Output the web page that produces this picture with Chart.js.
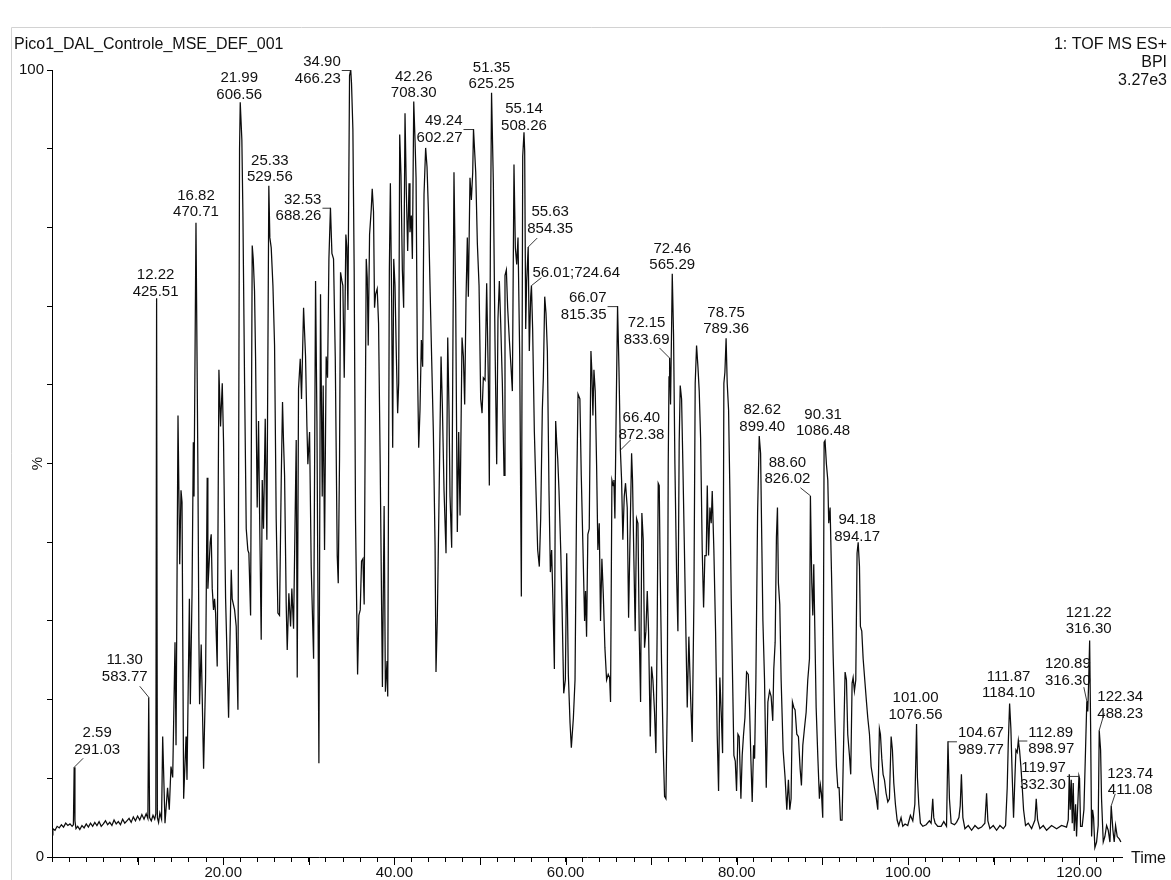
<!DOCTYPE html>
<html>
<head>
<meta charset="utf-8">
<title>Pico1_DAL_Controle_MSE_DEF_001 - BPI</title>
<script src="https://cdn.jsdelivr.net/npm/chart.js@4.4.1/dist/chart.umd.min.js"></script>
<style>
  html, body { margin: 0; padding: 0; background: #fff; }
  #wrap { position: relative; width: 1171px; height: 880px; }
</style>
</head>
<body>
<div id="wrap"><canvas id="bpiChart" width="1171" height="880"></canvas></div>
<script>
// Header texts
var sampleName = 'Pico1_DAL_Controle_MSE_DEF_001';
var traceInfo = ['1: TOF MS ES+', 'BPI', '3.27e3'];
var xAxisName = 'Time';
var yAxisName = '%';

// Axis ranges and labelled ticks
var timeRange = [0, 125];
var percentRange = [0, 100];
var xLabelledTicks = [20, 40, 60, 80, 100, 120];
var yLabelledTicks = [0, 100];

// Base peak intensity trace: [retention time (min), relative intensity (%)]
var chromatogram = [
  [0.0,2.8],[0.1,3.6],[0.35,3.4],[0.6,3.9],[0.85,3.7],[1.1,4.1],[1.35,3.8],[1.6,4.3],[1.85,4.0],[2.1,4.2],
  [2.35,3.9],[2.5,4.1],[2.59,11.4],[2.68,4.6],[2.8,3.6],[3.0,3.9],[3.25,3.5],[3.5,4.0],[3.75,3.7],[4.0,4.2],
  [4.25,3.8],[4.5,4.3],[4.75,3.9],[5.0,4.4],[5.25,4.0],[5.5,4.5],[5.75,3.9],[6.0,4.2],[6.25,4.6],[6.5,4.1],
  [6.75,4.4],[7.0,4.0],[7.25,4.7],[7.5,4.2],[7.75,4.5],[8.0,4.1],[8.25,4.8],[8.5,4.3],[8.75,4.6],[9.0,4.9],
  [9.25,4.4],[9.5,5.1],[9.75,4.6],[10.0,5.2],[10.25,4.7],[10.5,5.4],[10.75,4.8],[11.0,5.5],[11.2,4.9],[11.30,20.3],
  [11.4,5.0],[11.6,4.6],[11.8,5.3],[12.0,4.8],[12.13,5.5],[12.22,71],[12.31,5.0],[12.45,4.4],[12.6,5.6],[12.8,4.8],
  [12.93,15.3],[13.2,4.3],[13.5,8.8],[13.7,6.0],[13.9,11.5],[14.1,10.1],[14.37,27.3],[14.49,14.2],[14.72,56.1],[14.92,37.2],
  [15.07,46.6],[15.19,45.1],[15.38,7.4],[15.66,15.3],[15.77,9.8],[16.05,32.8],[16.16,19.4],[16.36,33.5],[16.51,52.7],[16.59,45.8],
  [16.82,80.6],[17.04,50],[17.16,28],[17.24,19.4],[17.43,27],[17.71,11.2],[17.94,22.5],[18.13,48.2],[18.21,34.1],[18.48,40],
  [18.6,41],[18.72,34.1],[18.87,31.4],[18.99,32.8],[19.11,31],[19.3,24.2],[19.5,61.9],[19.69,54.7],[19.89,60.2],[20.04,52.7],
  [20.28,32.8],[20.63,17.7],[20.94,36.5],[21.05,32.8],[21.33,31.4],[21.52,29.3],[21.72,18.7],[21.91,90],[21.99,95.9],[22.18,91.1],
  [22.3,82],[22.5,60],[22.69,41.7],[22.88,39],[23.0,38.6],[23.2,30.7],[23.39,77.7],[23.51,76],[23.66,71.9],[23.78,63.6],
  [23.97,44.4],[24.13,55.4],[24.25,43.7],[24.44,27.6],[24.56,47.9],[24.71,41.7],[24.91,55.7],[25.1,40.3],[25.33,85.3],[25.45,78.7],
  [25.61,77.4],[25.81,72.6],[26.0,65],[26.19,43],[26.39,31],[26.58,30.7],[26.78,47.9],[26.93,57.8],[27.05,52.7],[27.17,48.5],
  [27.36,32.1],[27.48,26.3],[27.67,33.5],[27.87,29.3],[28.02,34.1],[28.22,29],[28.34,38.3],[28.53,53],[28.65,22.8],[28.8,59.5],
  [29.0,63.3],[29.15,58.2],[29.39,69.8],[29.62,63.6],[29.78,54.7],[29.89,49.9],[30.09,54],[30.28,36.9],[30.56,25.2],[30.79,73.2],
  [30.95,55.4],[31.18,11.9],[31.37,71.5],[31.57,45.8],[31.68,59.9],[31.84,39],[32.03,63.6],[32.19,60.9],[32.35,76],[32.53,82.5],
  [32.7,76.7],[32.89,76],[33.09,63.6],[33.32,38.3],[33.44,34.8],[33.59,50.6],[33.71,74.3],[33.87,73.2],[33.98,72.6],[34.14,60.9],
  [34.33,79.1],[34.45,77.4],[34.57,69.5],[34.76,99.3],[34.9,100],[34.99,98.3],[35.15,92.5],[35.3,74.6],[35.46,42.7],[35.7,23.2],
  [35.85,30.7],[36.01,31.4],[36.16,37.6],[36.32,37.9],[36.47,32.1],[36.71,76],[36.83,73.6],[36.94,65],[37.1,79.1],[37.29,82.2],
  [37.41,84.9],[37.56,82],[37.68,69.8],[37.8,71.5],[37.99,72.2],[38.15,67.8],[38.34,49.9],[38.6,21.6],[38.8,44.6],[38.95,21],
  [39.14,24.9],[39.22,20.4],[39.41,74.6],[39.53,85.6],[39.68,70.5],[39.8,52],[39.92,76],[40.07,72.6],[40.23,63.6],[40.38,56.4],
  [40.5,60.2],[40.62,91.8],[40.77,86.6],[40.93,74.6],[41.08,69.8],[41.24,94.5],[41.4,84.2],[41.55,77],[41.71,85.6],[41.82,79.4],
  [41.98,81.5],[42.1,76],[42.26,96],[42.41,91.1],[42.53,86.3],[42.68,63.6],[42.84,52],[42.99,56.8],[43.15,65.7],[43.3,62.3],
  [43.46,84.2],[43.65,90.1],[43.81,87.7],[43.97,82.2],[44.16,72.6],[44.36,63],[44.55,54],[44.75,39.6],[44.86,23.5],[45.02,30.7],
  [45.21,45.1],[45.45,63.6],[45.6,57.5],[45.8,46.5],[46.03,38.6],[46.23,66],[46.38,56.8],[46.5,45.8],[46.69,39.3],[46.96,87],
  [47.16,70.5],[47.35,41.3],[47.51,54],[47.67,43.4],[47.9,66],[48.06,63.6],[48.21,57.5],[48.37,71.2],[48.52,78.7],[48.64,71.2],
  [48.83,86.3],[48.99,83.5],[49.15,87],[49.24,92.5],[49.5,87],[49.69,78],[49.89,72.6],[50.08,58.2],[50.24,56.4],[50.39,60.9],
  [50.59,60.6],[50.78,72.9],[50.98,60.2],[51.09,47.2],[51.21,77.4],[51.35,97.1],[51.56,85.6],[51.75,65.7],[51.95,49.9],[52.1,68.4],
  [52.26,73.2],[52.42,67.8],[52.61,60.2],[52.81,48.5],[52.92,73.9],[53.08,74.6],[53.23,69.8],[53.43,65.7],[53.62,62.3],[53.78,59.2],
  [53.97,88],[54.13,77.4],[54.29,75.3],[54.44,78.7],[54.64,63.6],[54.83,33.1],[54.99,89],[55.14,92.1],[55.22,89.7],[55.34,67.1],
  [55.45,73.2],[55.63,77.5],[55.76,64.3],[55.92,71.2],[56.01,72.6],[56.15,67.1],[56.35,54],[56.54,46.5],[56.74,39],[56.93,36.9],
  [57.09,43],[57.28,56.8],[57.4,60.9],[57.56,71.2],[57.71,69.1],[57.87,64.3],[58.06,46.5],[58.22,36.2],[58.37,39],[58.53,32.1],
  [58.69,23.9],[58.84,55.4],[58.96,52.7],[59.08,50.6],[59.23,46.5],[59.43,39],[59.58,32.1],[59.78,20.8],[59.97,22.5],[60.13,38.6],
  [60.32,23.2],[60.52,17],[60.67,13.9],[60.91,17.7],[61.1,22.5],[61.29,46],[61.45,58.8],[61.67,58.2],[61.83,48.5],[62.02,39.6],
  [62.22,30],[62.33,33.8],[62.45,28],[62.6,41],[62.76,41.7],[62.96,64.3],[63.07,61.6],[63.19,56.1],[63.31,61.9],[63.46,59.2],
  [63.62,49.9],[63.77,39],[63.93,42.4],[64.08,30],[64.24,37.9],[64.4,33.5],[64.59,26.6],[64.79,22.5],[64.98,23.2],[65.14,22.8],
  [65.25,19.7],[65.41,47.9],[65.56,47.2],[65.64,47.9],[65.76,43],[65.91,56.8],[66.07,70],[66.23,62.3],[66.4,51.7],[66.54,47.9],
  [66.69,40.3],[66.85,45.8],[67.0,47.5],[67.2,44.4],[67.36,30.4],[67.51,39.6],[67.71,51.3],[67.82,47.9],[67.98,37.6],[68.13,28.7],
  [68.29,43],[68.45,42.4],[68.6,28.7],[68.76,19.7],[68.91,43.7],[69.07,40.3],[69.22,26.6],[69.38,28.7],[69.54,33.8],[69.69,28.7],
  [69.89,15.3],[70.04,24.2],[70.2,22.5],[70.39,18.4],[70.55,13.2],[70.7,29.3],[70.82,47.5],[70.94,47.2],[71.05,36.2],[71.21,24.6],
  [71.41,13.6],[71.56,7.7],[71.72,7.4],[71.87,19],[71.99,49.9],[72.08,61],[72.15,63.4],[72.26,57.5],[72.38,67.1],[72.46,74.1],
  [72.61,66.4],[72.77,49.9],[72.96,36.2],[73.12,28.7],[73.27,52.7],[73.39,59.9],[73.55,58.2],[73.7,49.9],[73.86,40.3],[74.05,28.7],
  [74.21,19],[74.4,28],[74.6,20.4],[74.79,14.6],[74.99,32.8],[75.14,60.2],[75.3,65],[75.46,62.3],[75.61,59.2],[75.77,53.3],
  [75.96,39],[76.12,31.7],[76.27,38.3],[76.43,38.3],[76.55,47.2],[76.7,38.3],[76.86,44.4],[77.01,42.4],[77.13,46.5],[77.32,39],
  [77.52,28.7],[77.71,15.6],[77.87,8.4],[78.02,22.8],[78.18,18.4],[78.34,13.2],[78.49,60.2],[78.61,61.6],[78.75,65.9],[78.88,60.2],
  [79.04,56.8],[79.19,46.5],[79.35,32.8],[79.51,22.5],[79.66,12.9],[79.82,12.2],[79.97,8.4],[80.13,15.6],[80.28,15.3],[80.48,7.4],
  [80.63,12.9],[80.79,15.6],[80.95,17.7],[81.14,23.5],[81.34,23.2],[81.49,19],[81.65,12.2],[81.8,7],[81.96,14.2],[82.08,12.5],
  [82.23,22.5],[82.43,43.7],[82.62,53.5],[82.78,51.3],[82.89,42.4],[83.05,30],[83.24,22.5],[83.44,8.8],[83.63,19.7],[83.83,21.1],
  [84.01,20.4],[84.2,17.3],[84.32,23.9],[84.48,27.3],[84.63,40.7],[84.75,44.4],[84.86,34.8],[85.02,32.1],[85.18,22.5],[85.41,13.6],
  [85.64,10.1],[85.84,6],[86.03,9.8],[86.19,6],[86.34,7.4],[86.5,19.7],[86.66,19],[86.81,18.7],[87.01,15.6],[87.2,15.3],
  [87.4,11.2],[87.55,9.1],[87.71,14.2],[87.9,16.3],[88.1,18.4],[88.29,22.5],[88.49,25.2],[88.6,45.9],[88.76,34.8],[88.88,30.7],
  [88.99,37.2],[89.11,29.3],[89.27,19],[89.46,12.9],[89.65,7.4],[89.77,9.1],[89.89,8.1],[90.04,5],[90.2,52.7],[90.31,52.9],
  [90.47,49.9],[90.63,47.9],[90.74,42.4],[90.9,44.4],[91.06,36.2],[91.25,25.9],[91.45,17.7],[91.64,11.5],[91.8,8.8],[91.95,8.8],
  [92.11,4.7],[92.3,4.7],[92.5,15.6],[92.65,23.5],[92.81,22.5],[92.96,15.6],[93.16,12.9],[93.31,10.5],[93.47,22.1],[93.59,22.8],
  [93.74,21.1],[93.9,22.5],[94.05,38.6],[94.18,40],[94.33,36.9],[94.44,29.3],[94.6,28.7],[94.76,25.2],[94.95,22.5],[95.15,19.7],
  [95.3,17.7],[95.5,15.6],[95.69,11.5],[95.89,10.1],[96.08,8.8],[96.27,7.7],[96.47,6],[96.66,16.3],[96.78,15.6],[96.94,12.5],
  [97.09,10.5],[97.25,9.8],[97.44,8.1],[97.64,7],[97.83,7.4],[98.03,15.3],[98.18,13.6],[98.34,9.4],[98.53,6.7],[98.73,4.7],
  [98.92,4],[99.19,5],[99.39,3.9],[99.66,4.2],[99.97,4],[100.28,5.3],[100.56,4.6],[100.8,6.7],[101.0,16.9],[101.1,10.1],
  [101.26,6.7],[101.45,4.3],[101.73,3.9],[102.12,4.1],[102.5,4.6],[102.7,4.3],[102.89,7.4],[103.01,5],[103.17,4.3],[103.48,3.9],
  [103.87,3.9],[104.18,4.5],[104.5,3.9],[104.67,14.7],[104.84,7.4],[105.04,4.3],[105.43,4.1],[105.67,4.4],[105.95,5],[106.1,6.5],
  [106.24,10.5],[106.41,5],[106.65,3.6],[107.04,4],[107.43,3.4],[107.82,4],[108.21,3.6],[108.59,3.8],[108.98,4.3],[109.18,8.1],
  [109.33,4.6],[109.57,3.6],[109.96,4],[110.35,3.4],[110.74,4],[111.13,3.6],[111.4,4],[111.59,8.8],[111.71,14.3],[111.87,19.5],
  [112.02,16.3],[112.18,10.1],[112.33,5],[112.49,10.1],[112.61,13.6],[112.76,13.3],[112.89,14.8],[113.03,13.6],[113.19,11.5],[113.35,8.8],
  [113.5,6],[113.73,4],[114.05,4.3],[114.44,3.6],[114.83,4.7],[114.98,7.4],[115.14,4.7],[115.41,3.6],[115.8,4],[116.19,3.4],
  [116.77,4],[117.36,3.6],[117.94,4],[118.52,3.8],[118.72,4.7],[118.84,10.5],[118.95,6],[119.07,9.8],[119.19,4.3],[119.3,9.4],
  [119.42,3.3],[119.58,6.7],[119.69,2.6],[119.81,6],[119.97,10.3],[120.04,10],[120.16,3.9],[120.35,3.9],[120.55,6],[120.74,13.6],
  [120.89,19.8],[121.0,18.5],[121.1,22],[121.22,27.5],[121.33,17],[121.45,2.6],[121.56,6],[121.68,5],[121.83,1.2],[122.03,1.9],
  [122.22,4],[122.34,16.1],[122.5,13.6],[122.61,7.4],[122.81,1.9],[123.0,2.6],[123.2,4],[123.39,3.4],[123.59,1.9],[123.74,6.5],
  [123.94,3.4],[124.09,1.9],[124.25,4],[124.44,2.6],[124.68,2.3],[124.87,1.9]
];

// Annotated peaks: retention time, base peak m/z, apex height (%)
var peakTimes   = [2.59, 11.30, 12.22, 16.82, 21.99, 25.33, 32.53, 34.90, 42.26, 49.24, 51.35, 55.14, 55.63, 56.01, 66.07, 66.40,
                   72.15, 72.46, 78.75, 82.62, 88.60, 90.31, 94.18, 101.00, 104.67, 111.87, 112.89, 119.97, 120.89, 121.22, 122.34, 123.74];
var peakMasses  = [291.03, 583.77, 425.51, 470.71, 606.56, 529.56, 688.26, 466.23, 708.30, 602.27, 625.25, 508.26, 854.35, 724.64, 815.35, 872.38,
                   833.69, 565.29, 789.36, 899.40, 826.02, 1086.48, 894.17, 1076.56, 989.77, 1184.10, 898.97, 332.30, 316.30, 316.30, 488.23, 411.08];
var peakHeights = [11.4, 20.3, 71, 80.6, 95.9, 85.3, 82.5, 100, 96, 92.5, 97.1, 92.1, 77.5, 72.6, 70, 51.7,
                   63.4, 74.1, 65.9, 53.5, 45.9, 52.9, 40, 16.9, 14.7, 19.5, 14.8, 10.3, 19.8, 27.5, 16.1, 6.5];

// Where each peak label sits relative to its apex (pixels)
var labelLayout = [
  {mode: 'diag', dx: 23, dy: -34, lx: 9, ly: -9},
  {mode: 'diag', dx: -24, dy: -37, lx: -9, ly: -11},
  {mode: 'top', dx: -1, dy: -23},
  {mode: 'top', dx: 0, dy: -27},
  {mode: 'top', dx: -1, dy: -24},
  {mode: 'top', dx: 1, dy: -25},
  {mode: 'left', len: 8},
  {mode: 'left', len: 9},
  {mode: 'top', dx: 0, dy: -25},
  {mode: 'left', len: 10},
  {mode: 'top', dx: 0, dy: -25},
  {mode: 'top', dx: 0, dy: -23},
  {mode: 'diag', dx: 22, dy: -35, lx: 9, ly: -9},
  {mode: 'inline', lx: 10, ly: -8},
  {mode: 'left', len: 10},
  {mode: 'diag', dx: 21, dy: -32, lx: 10, ly: -10},
  {mode: 'diag', dx: -23, dy: -35, lx: -10, ly: -10},
  {mode: 'top', dx: 0, dy: -25},
  {mode: 'top', dx: 0, dy: -26},
  {mode: 'top', dx: 3, dy: -26},
  {mode: 'diag', dx: -23, dy: -33, lx: -10, ly: -8},
  {mode: 'top', dx: -2, dy: -26},
  {mode: 'top', dx: -1, dy: -22},
  {mode: 'top', dx: -1, dy: -26},
  {mode: 'right', len: 9},
  {mode: 'top', dx: -1, dy: -27},
  {mode: 'right', len: 9},
  {mode: 'left', len: 12},
  {mode: 'diag', dx: -19, dy: -37, lx: -3, ly: -14},
  {mode: 'top', dx: -1, dy: -28},
  {mode: 'diag', dx: 21, dy: -33, lx: 5, ly: -17},
  {mode: 'diag', dx: 19, dy: -32, lx: 4, ly: -12}
];

var FONT_FAMILY = '"Liberation Sans", Arial, Helvetica, sans-serif';
var TEXT_COLOR = '#111';

// Frame, header texts and axis name "Time"
var headerPlugin = {
  id: 'header',
  beforeDraw: function(chart) {
    var ctx = chart.ctx;
    ctx.save();
    ctx.fillStyle = '#fff';
    ctx.fillRect(0, 0, chart.width, chart.height);
    ctx.strokeStyle = '#d2d2d2';
    ctx.lineWidth = 1;
    ctx.beginPath();
    ctx.moveTo(11.5, chart.height);
    ctx.lineTo(11.5, 27.5);
    ctx.lineTo(chart.width, 27.5);
    ctx.stroke();
    ctx.restore();
  },
  afterDraw: function(chart) {
    var ctx = chart.ctx;
    var xScale = chart.scales.x;
    ctx.save();
    ctx.fillStyle = TEXT_COLOR;
    ctx.font = '16px ' + FONT_FAMILY;
    ctx.textBaseline = 'middle';
    ctx.textAlign = 'left';
    ctx.fillText(sampleName, 14, 45);
    ctx.textAlign = 'right';
    traceInfo.forEach(function(line, i) {
      ctx.fillText(line, 1167, 45 + i * 18);
    });
    ctx.textAlign = 'left';
    ctx.fillText(xAxisName, xScale.right + 9, xScale.top + 2);

    // longer marks every 10 min
    ctx.strokeStyle = '#000';
    ctx.lineWidth = 1;
    for (var v = 10; v < timeRange[1]; v += 10) {
      var px = Math.round(xScale.getPixelForValue(v)) + 0.5;
      ctx.beginPath();
      ctx.moveTo(px, xScale.top);
      ctx.lineTo(px, xScale.top + 8);
      ctx.stroke();
    }
    ctx.restore();
  }
};

// Peak annotations (time over m/z) with their leader lines
var peakLabelPlugin = {
  id: 'peakLabels',
  afterDatasetsDraw: function(chart) {
    var ctx = chart.ctx;
    var x = chart.scales.x, y = chart.scales.y;
    var lineGap = 16.5;
    ctx.save();
    ctx.font = '15px ' + FONT_FAMILY;
    ctx.fillStyle = TEXT_COLOR;
    ctx.strokeStyle = '#222';
    ctx.lineWidth = 0.9;
    ctx.textBaseline = 'middle';

    peakTimes.forEach(function(t, i) {
      var px = x.getPixelForValue(t);
      var py = y.getPixelForValue(peakHeights[i]);
      var lay = labelLayout[i];
      var top = t.toFixed(2);
      var bottom = peakMasses[i].toFixed(2);

      function leader(x1, y1, x2, y2) {
        ctx.beginPath();
        ctx.moveTo(x1, y1);
        ctx.lineTo(x2, y2);
        ctx.stroke();
      }

      if (lay.mode === 'top' || lay.mode === 'diag') {
        if (lay.mode === 'diag') leader(px, py, px + lay.lx, py + lay.ly);
        ctx.textAlign = 'center';
        ctx.fillText(top, px + lay.dx, py + lay.dy);
        ctx.fillText(bottom, px + lay.dx, py + lay.dy + lineGap);
      } else if (lay.mode === 'left') {
        leader(px - lay.len, py + 0.5, px, py + 0.5);
        ctx.textAlign = 'right';
        ctx.fillText(top, px - lay.len - 1, py - 8);
        ctx.fillText(bottom, px - lay.len - 1, py + 8.5);
      } else if (lay.mode === 'right') {
        leader(px, py + 0.5, px + lay.len, py + 0.5);
        ctx.textAlign = 'left';
        ctx.fillText(top, px + lay.len + 1, py - 8);
        ctx.fillText(bottom, px + lay.len + 1, py + 8.5);
      } else if (lay.mode === 'inline') {
        leader(px, py, px + lay.lx, py + lay.ly);
        ctx.textAlign = 'left';
        ctx.fillText(top + ';' + bottom, px + 1, py - 13);
      }
    });
    ctx.restore();
  }
};

var tickFont = { family: FONT_FAMILY, size: 15 };

var chart = new Chart(document.getElementById('bpiChart'), {
  type: 'line',
  data: {
    datasets: [{
      label: 'BPI',
      data: chromatogram.map(function(p) { return { x: p[0], y: p[1] }; }),
      borderColor: '#0c0c0c',
      borderWidth: 1.25,
      pointRadius: 0,
      tension: 0,
      fill: false
    }]
  },
  options: {
    responsive: false,
    animation: false,
    events: [],
    layout: { padding: { top: 70, right: 49, bottom: 0, left: 0 } },
    plugins: {
      legend: { display: false },
      tooltip: { enabled: false }
    },
    scales: {
      x: {
        type: 'linear',
        min: timeRange[0],
        max: timeRange[1],
        border: { display: true, color: '#000', width: 1 },
        grid: { drawOnChartArea: false, drawTicks: true, tickLength: 5, color: '#000' },
        ticks: {
          stepSize: 2,
          includeBounds: false,
          autoSkip: false,
          maxRotation: 0,
          padding: 2,
          color: TEXT_COLOR,
          font: tickFont,
          callback: function(v) {
            return xLabelledTicks.indexOf(v) >= 0 ? v.toFixed(2) : '';
          }
        },
        afterFit: function(scale) { scale.height = 23; }
      },
      y: {
        type: 'linear',
        min: percentRange[0],
        max: percentRange[1],
        border: { display: true, color: '#000', width: 1 },
        grid: { drawOnChartArea: false, drawTicks: true, tickLength: 5, color: '#000' },
        ticks: {
          stepSize: 10,
          autoSkip: false,
          padding: 3,
          color: TEXT_COLOR,
          font: tickFont,
          callback: function(v) {
            return yLabelledTicks.indexOf(v) >= 0 ? String(v) : '';
          }
        },
        title: {
          display: true,
          text: yAxisName,
          color: TEXT_COLOR,
          font: tickFont,
          padding: { top: 29, bottom: 0 }
        },
        afterFit: function(scale) { scale.width = 52; }
      }
    }
  },
  plugins: [headerPlugin, peakLabelPlugin]
});
</script>
</body>
</html>
